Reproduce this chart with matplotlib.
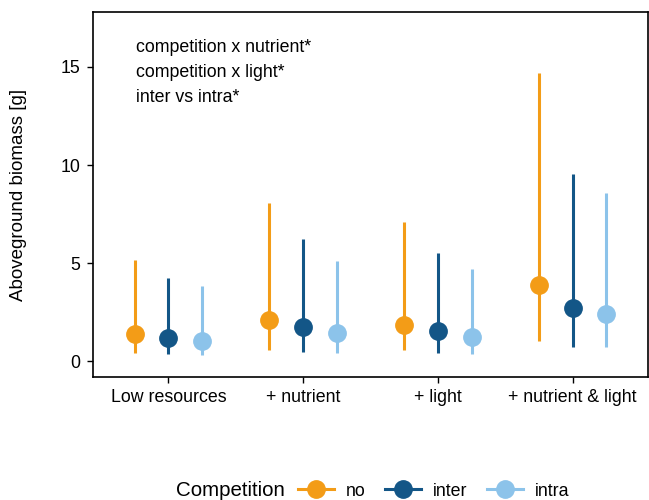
import matplotlib.pyplot as plt
import numpy as np
from matplotlib.lines import Line2D

plt.rcParams['font.family'] = ['Liberation Sans', 'DejaVu Sans']

categories = ['Low resources', '+ nutrient', '+ light', '+ nutrient & light']
groups = ['no', 'inter', 'intra']
colors = ['#F39C17', '#135687', '#8CC3EA']

mean_no = [1.38, 2.09, 1.84, 3.88]
low_no = [0.40, 0.56, 0.56, 1.02]
high_no = [5.15, 8.06, 7.09, 14.69]

mean_inter = [1.17, 1.73, 1.53, 2.70]
low_inter = [0.36, 0.46, 0.41, 0.71]
high_inter = [4.23, 6.22, 5.51, 9.54]

mean_intra = [1.02, 1.43, 1.22, 2.40]
low_intra = [0.31, 0.41, 0.36, 0.71]
high_intra = [3.83, 5.10, 4.69, 8.57]

means = [mean_no, mean_inter, mean_intra]
lows = [low_no, low_inter, low_intra]
highs = [high_no, high_inter, high_intra]

W, H = 649, 500
fig = plt.figure(figsize=(W / 100, H / 100), dpi=100)
ax = fig.add_axes([93 / W, 123 / H, 555 / W, 365 / H])

x = np.arange(len(categories))
offsets = [-0.25, 0, 0.25]
for col, off, m, lo, hi in zip(colors, offsets, means, lows, highs):
    ax.vlines(x + off, lo, hi, color=col, linewidth=2.2)
    ax.plot(x + off, m, 'o', color=col, markersize=12.5, linestyle='none')

ax.set_xlim(-0.56, 3.56)
ax.set_ylim(-0.8, 17.8)
ax.set_xticks(x)
ax.set_xticklabels(categories)
ax.set_yticks([0, 5, 10, 15])
ax.tick_params(labelsize=12.8, length=4, width=1, pad=5, colors='black')
ax.set_ylabel('Aboveground biomass [g]', fontsize=13.5, labelpad=24)
for s in ax.spines.values():
    s.set_linewidth(1.2)

notes = ['competition x nutrient*', 'competition x light*', 'inter vs intra*']
for i, t in enumerate(notes):
    fig.text(136 / W, 1 - (48 + 24.5 * i) / H, t, fontsize=12.8, va='center', ha='left')

fig.text(176 / W, 1 - 490 / H, 'Competition', fontsize=14.8, va='center', ha='left')
handles = [Line2D([0], [0], color=c, marker='o', markersize=12.5, linewidth=2.2) for c in colors]
fig.legend(handles, groups, loc='center left', bbox_to_anchor=(298 / W, 1 - 491 / H), ncol=3,
           frameon=False, fontsize=12.8, handlelength=2.0, handletextpad=0.7,
           columnspacing=1.1, borderaxespad=0, borderpad=0)

fig.savefig('out.png', dpi=100)
